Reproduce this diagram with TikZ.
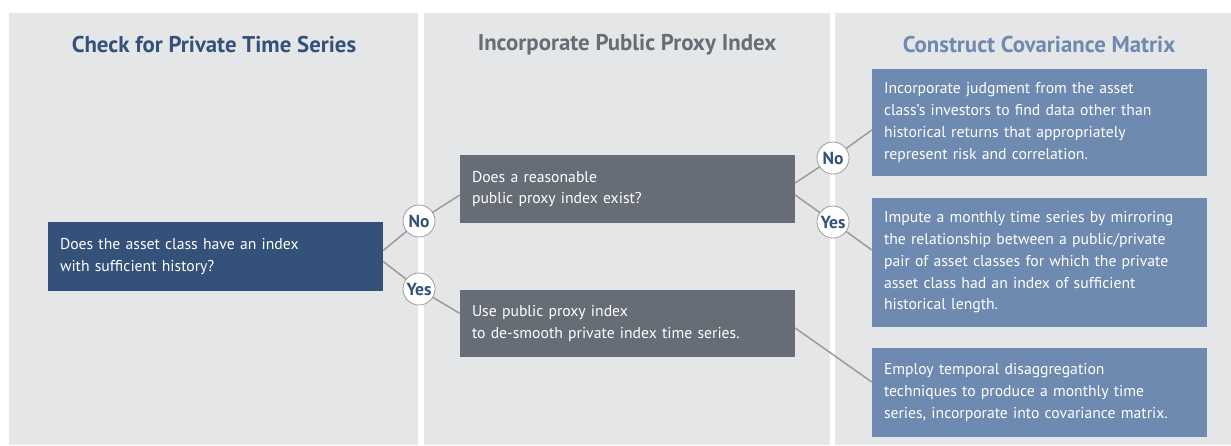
\documentclass[tikz,border=0pt]{standalone}
\usepackage{fontspec}
\setmainfont{PT Sans}
\usetikzlibrary{calc}
\definecolor{panelbg}{HTML}{E5E6E8}
\definecolor{navy}{HTML}{34517A}
\definecolor{slate}{HTML}{676D76}
\definecolor{steel}{HTML}{6E8AB0}
\definecolor{linkgray}{HTML}{9C9C9C}
\begin{document}
\begin{tikzpicture}[x=1pt,y=1pt,
  panel/.style={fill=panelbg,draw=none},
  head/.style={font=\fontsize{22.8}{26}\selectfont\bfseries,anchor=center},
  box/.style={rectangle,draw=none,text=white,minimum width=335,text width=311,
    inner xsep=12,inner ysep=0,align=left,font=\fontsize{15.7}{21.7}\selectfont},
  link/.style={draw=linkgray,line width=1.5},
  tag/.style={circle,fill=white,draw=linkgray,line width=0.8,minimum size=32,inner sep=0,
    text=navy,font=\fontsize{17.5}{19}\selectfont\bfseries}]
\useasboundingbox (0,0) rectangle (1231,-445);
\fill[white] (0,0) rectangle (1231,-445);
% three columns
\fill[panel] (9,-13) rectangle (418,-445);
\fill[panel] (424,-13) rectangle (830,-445);
\fill[panel] (835,-13) rectangle (1231,-445);
% column headings
\node[head,text=navy] (h1) at (214,-45) {Check for Private Time Series};
\node[head,text=slate] (h2) at (627,-45) {Incorporate Public Proxy Index};
\node[head,text=steel] (h3) at (1039,-45) {Construct Covariance Matrix};
% decision and action boxes
\node[box,fill=navy,minimum height=69] (A) at (215.5,-256.5)
  {Does the asset class have an index\\with sufficient history?};
\node[box,fill=slate,minimum height=68] (B) at (627.5,-189)
  {Does a reasonable\\public proxy index exist?};
\node[box,fill=slate,minimum height=67] (C) at (627.5,-323.5)
  {Use public proxy index\\to de-smooth private index time series.};
\node[box,fill=steel,minimum height=107] (D) at (1039.5,-122.5)
  {Incorporate judgment from the asset\\class’s investors to find data other than\\historical returns that appropriately\\represent risk and correlation.};
\node[box,fill=steel,minimum height=129] (E) at (1039.5,-262.5)
  {Impute a monthly time series by mirroring\\the relationship between a public/private\\pair of asset classes for which the private\\asset class had an index of sufficient\\historical length.};
\node[box,fill=steel,minimum height=89] (F) at (1039.5,-392.5)
  {Employ temporal disaggregation\\techniques to produce a monthly time\\series, incorporate into covariance matrix.};
% answer markers
\coordinate (no1) at (419,-221);
\coordinate (yes1) at (419,-289);
\coordinate (no2) at (833,-158);
\coordinate (yes2) at (833,-222);
% connectors
\draw[link] ($(A.east)+(0,6)$) -- (no1) -- ($(B.west)+(0,-6)$);
\draw[link] ($(A.east)+(0,-5)$) -- (yes1) -- ($(C.west)+(0,10)$);
\draw[link] ($(B.east)+(0,6)$) -- (no2) -- ($(D.west)+(0,-7.5)$);
\draw[link] ($(B.east)+(0,-6)$) -- (yes2) -- ($(E.west)+(0,12.5)$);
\draw[link] ($(C.east)+(0,-4.5)$) -- ($(F.west)+(0,10.5)$);
\node[tag] (n1) at (no1) {No};
\node[tag] (y1) at (yes1) {Yes};
\node[tag] (n2) at (no2) {No};
\node[tag] (y2) at (yes2) {Yes};
\end{tikzpicture}
\end{document}
